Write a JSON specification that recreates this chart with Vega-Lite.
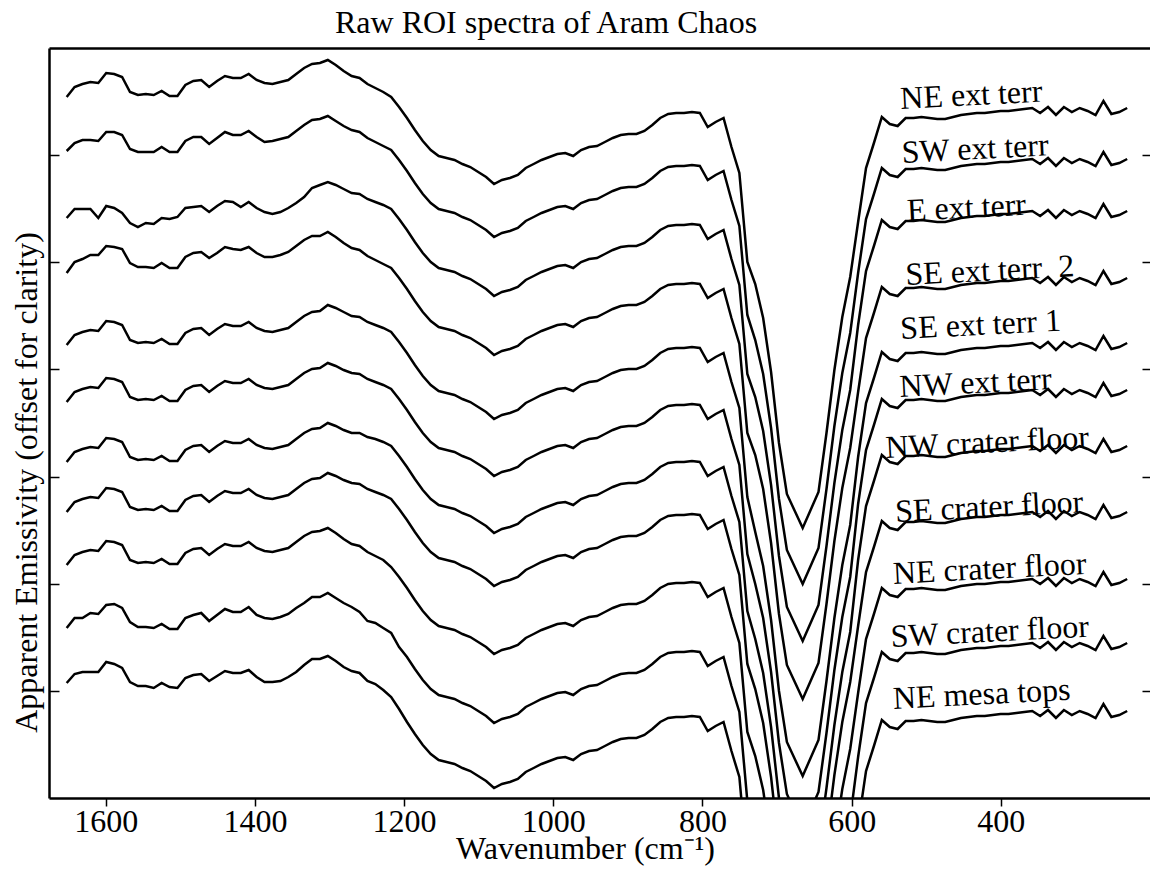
{
"$schema":"https://vega.github.io/schema/vega-lite/v6.json",
"width":1101,"height":750,
"autosize":{"type":"none"},
"padding":{"left":49,"top":48,"right":0,"bottom":71},
"background":"white",
"config":{"view":{"stroke":null},"font":"Liberation Serif"},
"title":{"text":"Raw ROI spectra of Aram Chaos","font":"Liberation Serif","fontSize":32,"fontWeight":"normal","color":"black","anchor":"start","frame":"group","dx":286,"dy":31,"offset":14,"baseline":"alphabetic"},
"datasets":{
"spectra":[
{"w":1652.3,"a":701,"b":647,"c":580,"d":525,"e":453,"f":396,"g":336,"h":286,"i":233,"j":170,"k":115},
{"w":1641.7,"a":711,"b":655,"c":589,"d":536,"e":463,"f":406,"g":346,"h":296,"i":243,"j":180,"k":124},
{"w":1631.1,"a":714,"b":658,"c":589,"d":539,"e":466,"f":409,"g":349,"h":299,"i":246,"j":180,"k":126},
{"w":1620.5,"a":716,"b":658,"c":589,"d":543,"e":468,"f":411,"g":351,"h":301,"i":248,"j":185,"k":126},
{"w":1609.9,"a":715,"b":657,"c":580,"d":543,"e":467,"f":410,"g":350,"h":300,"i":247,"j":184,"k":126},
{"w":1599.3,"a":725,"b":666,"c":592,"d":552,"e":477,"f":420,"g":360,"h":310,"i":257,"j":193,"k":136},
{"w":1588.6,"a":724,"b":666,"c":590,"d":551,"e":476,"f":419,"g":359,"h":309,"i":256,"j":194,"k":134},
{"w":1578.0,"a":721,"b":663,"c":585,"d":549,"e":473,"f":416,"g":356,"h":306,"i":253,"j":190,"k":130},
{"w":1567.4,"a":706,"b":649,"c":575,"d":535,"e":458,"f":401,"g":341,"h":291,"i":238,"j":176,"k":116},
{"w":1556.8,"a":703,"b":646,"c":571,"d":531,"e":455,"f":398,"g":338,"h":288,"i":235,"j":171,"k":112},
{"w":1546.2,"a":704,"b":646,"c":575,"d":531,"e":456,"f":399,"g":339,"h":289,"i":236,"j":171,"k":112},
{"w":1535.6,"a":703,"b":646,"c":574,"d":530,"e":455,"f":398,"g":338,"h":288,"i":235,"j":170,"k":110},
{"w":1525.0,"a":707,"b":651,"c":580,"d":535,"e":459,"f":402,"g":342,"h":292,"i":239,"j":174,"k":115},
{"w":1514.4,"a":702,"b":646,"c":579,"d":530,"e":454,"f":397,"g":337,"h":287,"i":234,"j":169,"k":111},
{"w":1503.8,"a":702,"b":646,"c":581,"d":530,"e":454,"f":397,"g":337,"h":287,"i":234,"j":169,"k":110},
{"w":1493.2,"a":713,"b":657,"c":590,"d":541,"e":465,"f":408,"g":348,"h":298,"i":245,"j":180,"k":120},
{"w":1482.5,"a":717,"b":661,"c":591,"d":545,"e":469,"f":412,"g":352,"h":302,"i":249,"j":183,"k":123},
{"w":1471.9,"a":718,"b":661,"c":592,"d":546,"e":470,"f":413,"g":353,"h":303,"i":250,"j":185,"k":124},
{"w":1461.3,"a":711,"b":654,"c":586,"d":540,"e":463,"f":406,"g":346,"h":296,"i":243,"j":177,"k":117},
{"w":1450.7,"a":717,"b":660,"c":592,"d":545,"e":469,"f":412,"g":352,"h":302,"i":249,"j":183,"k":122},
{"w":1440.1,"a":722,"b":666,"c":597,"d":551,"e":474,"f":417,"g":357,"h":307,"i":254,"j":189,"k":127},
{"w":1429.5,"a":720,"b":663,"c":596,"d":549,"e":472,"f":415,"g":355,"h":305,"i":252,"j":186,"k":125},
{"w":1418.9,"a":720,"b":663,"c":591,"d":548,"e":472,"f":415,"g":355,"h":305,"i":252,"j":186,"k":125},
{"w":1408.3,"a":724,"b":667,"c":596,"d":551,"e":476,"f":419,"g":359,"h":309,"i":256,"j":191,"k":128},
{"w":1397.7,"a":718,"b":661,"c":590,"d":545,"e":470,"f":413,"g":353,"h":303,"i":250,"j":183,"k":121},
{"w":1387.1,"a":715,"b":656,"c":586,"d":541,"e":467,"f":410,"g":350,"h":300,"i":247,"j":180,"k":116},
{"w":1376.4,"a":714,"b":657,"c":584,"d":541,"e":466,"f":409,"g":349,"h":299,"i":246,"j":179,"k":116},
{"w":1365.8,"a":716,"b":659,"c":586,"d":543,"e":468,"f":411,"g":351,"h":301,"i":248,"j":181,"k":117},
{"w":1355.2,"a":718,"b":661,"c":590,"d":546,"e":470,"f":413,"g":353,"h":303,"i":250,"j":184,"k":121},
{"w":1344.6,"a":724,"b":667,"c":595,"d":552,"e":476,"f":419,"g":359,"h":309,"i":256,"j":190,"k":126},
{"w":1334.0,"a":730,"b":673,"c":601,"d":558,"e":482,"f":425,"g":365,"h":315,"i":262,"j":195,"k":133},
{"w":1323.4,"a":734,"b":678,"c":610,"d":562,"e":486,"f":429,"g":369,"h":319,"i":266,"j":201,"k":139},
{"w":1312.8,"a":735,"b":679,"c":613,"d":562,"e":487,"f":430,"g":370,"h":320,"i":267,"j":201,"k":139},
{"w":1302.2,"a":738,"b":682,"c":616,"d":566,"e":493,"f":435,"g":375,"h":325,"i":270,"j":205,"k":142},
{"w":1291.6,"a":733,"b":677,"c":613,"d":561,"e":490,"f":432,"g":372,"h":322,"i":265,"j":200,"k":137},
{"w":1281.0,"a":727,"b":672,"c":609,"d":555,"e":486,"f":428,"g":368,"h":318,"i":259,"j":195,"k":131},
{"w":1270.3,"a":722,"b":668,"c":605,"d":550,"e":482,"f":425,"g":365,"h":315,"i":254,"j":191,"k":127},
{"w":1259.7,"a":720,"b":666,"c":604,"d":548,"e":481,"f":424,"g":365,"h":314,"i":252,"j":186,"k":125},
{"w":1249.1,"a":714,"b":660,"c":599,"d":542,"e":476,"f":419,"g":361,"h":309,"i":246,"j":177,"k":117},
{"w":1238.5,"a":710,"b":656,"c":596,"d":538,"e":473,"f":416,"g":359,"h":306,"i":242,"j":175,"k":114},
{"w":1227.9,"a":706,"b":652,"c":593,"d":534,"e":470,"f":413,"g":356,"h":303,"i":238,"j":170,"k":108},
{"w":1217.3,"a":701,"b":648,"c":589,"d":530,"e":466,"f":409,"g":352,"h":299,"i":231,"j":165,"k":101},
{"w":1206.7,"a":691,"b":638,"c":579,"d":520,"e":456,"f":399,"g":342,"h":289,"i":221,"j":151,"k":89},
{"w":1196.1,"a":680,"b":627,"c":568,"d":509,"e":445,"f":388,"g":331,"h":278,"i":210,"j":141,"k":76},
{"w":1185.5,"a":668,"b":615,"c":556,"d":497,"e":433,"f":376,"g":319,"h":266,"i":198,"j":129,"k":64},
{"w":1174.9,"a":657,"b":604,"c":545,"d":486,"e":422,"f":365,"g":308,"h":255,"i":187,"j":118,"k":53},
{"w":1164.2,"a":648,"b":595,"c":536,"d":477,"e":413,"f":356,"g":299,"h":246,"i":178,"j":109,"k":44},
{"w":1153.6,"a":642,"b":589,"c":530,"d":471,"e":407,"f":350,"g":293,"h":240,"i":172,"j":103,"k":38},
{"w":1143.0,"a":640,"b":587,"c":528,"d":469,"e":405,"f":348,"g":291,"h":238,"i":170,"j":101,"k":36},
{"w":1132.4,"a":638,"b":585,"c":526,"d":467,"e":403,"f":346,"g":289,"h":236,"i":168,"j":99,"k":34},
{"w":1121.8,"a":634,"b":581,"c":522,"d":463,"e":399,"f":342,"g":285,"h":232,"i":164,"j":95,"k":30},
{"w":1111.2,"a":631,"b":578,"c":519,"d":460,"e":396,"f":339,"g":282,"h":229,"i":161,"j":92,"k":27},
{"w":1100.6,"a":626,"b":573,"c":514,"d":455,"e":391,"f":334,"g":277,"h":224,"i":156,"j":87,"k":22},
{"w":1090.0,"a":621,"b":568,"c":509,"d":450,"e":386,"f":329,"g":272,"h":219,"i":151,"j":82,"k":17},
{"w":1079.4,"a":614,"b":561,"c":502,"d":443,"e":379,"f":322,"g":265,"h":212,"i":144,"j":75,"k":10},
{"w":1068.8,"a":618,"b":565,"c":506,"d":447,"e":383,"f":326,"g":269,"h":216,"i":148,"j":79,"k":14},
{"w":1058.1,"a":620,"b":567,"c":508,"d":449,"e":385,"f":328,"g":271,"h":218,"i":150,"j":81,"k":16},
{"w":1047.5,"a":623,"b":570,"c":511,"d":452,"e":388,"f":331,"g":274,"h":221,"i":153,"j":84,"k":19},
{"w":1036.9,"a":630,"b":577,"c":518,"d":459,"e":395,"f":338,"g":281,"h":228,"i":160,"j":91,"k":26},
{"w":1026.3,"a":634,"b":581,"c":522,"d":463,"e":399,"f":342,"g":285,"h":232,"i":164,"j":95,"k":30},
{"w":1015.7,"a":638,"b":585,"c":526,"d":467,"e":403,"f":346,"g":289,"h":236,"i":168,"j":99,"k":34},
{"w":1005.1,"a":641,"b":588,"c":529,"d":470,"e":406,"f":349,"g":292,"h":239,"i":171,"j":102,"k":37},
{"w":994.5,"a":644,"b":591,"c":532,"d":473,"e":409,"f":352,"g":295,"h":242,"i":174,"j":105,"k":40},
{"w":983.9,"a":645,"b":592,"c":533,"d":474,"e":410,"f":353,"g":296,"h":243,"i":175,"j":106,"k":41},
{"w":973.3,"a":642,"b":589,"c":530,"d":471,"e":407,"f":350,"g":293,"h":240,"i":172,"j":103,"k":38},
{"w":962.7,"a":648,"b":595,"c":536,"d":477,"e":413,"f":356,"g":299,"h":246,"i":178,"j":109,"k":44},
{"w":952.0,"a":651,"b":598,"c":539,"d":480,"e":416,"f":359,"g":302,"h":249,"i":181,"j":112,"k":47},
{"w":941.4,"a":652,"b":599,"c":540,"d":481,"e":417,"f":360,"g":303,"h":250,"i":182,"j":113,"k":48},
{"w":930.8,"a":656,"b":603,"c":544,"d":485,"e":421,"f":364,"g":307,"h":254,"i":186,"j":117,"k":52},
{"w":920.2,"a":660,"b":607,"c":548,"d":489,"e":425,"f":368,"g":311,"h":258,"i":190,"j":121,"k":56},
{"w":909.6,"a":663,"b":610,"c":551,"d":492,"e":428,"f":371,"g":314,"h":261,"i":193,"j":124,"k":59},
{"w":899.0,"a":664,"b":611,"c":552,"d":493,"e":429,"f":372,"g":315,"h":262,"i":194,"j":125,"k":60},
{"w":888.4,"a":664,"b":611,"c":552,"d":493,"e":429,"f":372,"g":315,"h":262,"i":194,"j":125,"k":60},
{"w":877.8,"a":667,"b":614,"c":555,"d":496,"e":432,"f":375,"g":318,"h":265,"i":197,"j":128,"k":63},
{"w":867.2,"a":673,"b":620,"c":561,"d":502,"e":438,"f":381,"g":324,"h":271,"i":203,"j":134,"k":69},
{"w":856.6,"a":680,"b":627,"c":568,"d":509,"e":445,"f":388,"g":331,"h":278,"i":210,"j":141,"k":76},
{"w":845.9,"a":684,"b":631,"c":572,"d":513,"e":449,"f":392,"g":335,"h":282,"i":214,"j":145,"k":80},
{"w":835.3,"a":685,"b":632,"c":573,"d":514,"e":450,"f":393,"g":336,"h":283,"i":215,"j":146,"k":81},
{"w":824.7,"a":685,"b":632,"c":573,"d":514,"e":450,"f":393,"g":336,"h":283,"i":215,"j":146,"k":81},
{"w":814.1,"a":686,"b":633,"c":574,"d":515,"e":451,"f":394,"g":337,"h":284,"i":216,"j":147,"k":82},
{"w":803.5,"a":685,"b":632,"c":573,"d":514,"e":450,"f":393,"g":336,"h":283,"i":215,"j":146,"k":81},
{"w":792.9,"a":671,"b":618,"c":559,"d":500,"e":436,"f":379,"g":322,"h":269,"i":201,"j":132,"k":67},
{"w":782.3,"a":676,"b":623,"c":564,"d":505,"e":441,"f":384,"g":327,"h":274,"i":206,"j":137,"k":72},
{"w":771.7,"a":680,"b":627,"c":568,"d":509,"e":445,"f":388,"g":331,"h":278,"i":210,"j":141,"k":76},
{"w":761.1,"a":651,"b":598,"c":539,"d":480,"e":416,"f":359,"g":302,"h":249,"i":181,"j":112,"k":47},
{"w":750.5,"a":625,"b":572,"c":513,"d":454,"e":390,"f":333,"g":276,"h":223,"i":155,"j":86,"k":21},
{"w":739.8,"a":536,"b":483,"c":424,"d":365,"e":301,"f":244,"g":187,"h":134,"i":66,"j":-3,"k":-68},
{"w":729.2,"a":514,"b":458,"c":401,"d":343,"e":266,"f":214,"g":159,"h":109,"i":42,"j":-27,"k":-92},
{"w":718.6,"a":480,"b":424,"c":367,"d":309,"e":232,"f":180,"g":125,"h":75,"i":8,"j":-61,"k":-126},
{"w":708.0,"a":426,"b":370,"c":313,"d":255,"e":178,"f":126,"g":71,"h":21,"i":-46,"j":-115,"k":-180},
{"w":697.4,"a":355,"b":299,"c":242,"d":184,"e":107,"f":55,"g":0,"h":-50,"i":-117,"j":-186,"k":-251},
{"w":686.8,"a":304,"b":248,"c":191,"d":133,"e":56,"f":4,"g":-51,"h":-101,"i":-168,"j":-237,"k":-302},
{"w":676.2,"a":287,"b":231,"c":174,"d":116,"e":39,"f":-13,"g":-68,"h":-118,"i":-185,"j":-254,"k":-319},
{"w":665.6,"a":270,"b":214,"c":157,"d":99,"e":22,"f":-30,"g":-85,"h":-135,"i":-202,"j":-271,"k":-336},
{"w":655.0,"a":288,"b":232,"c":175,"d":117,"e":40,"f":-12,"g":-67,"h":-117,"i":-184,"j":-253,"k":-318},
{"w":644.4,"a":306,"b":250,"c":193,"d":135,"e":58,"f":6,"g":-49,"h":-99,"i":-166,"j":-235,"k":-300},
{"w":633.7,"a":365,"b":309,"c":252,"d":194,"e":117,"f":65,"g":10,"h":-40,"i":-107,"j":-176,"k":-241},
{"w":623.1,"a":428,"b":372,"c":315,"d":257,"e":180,"f":128,"g":73,"h":23,"i":-44,"j":-113,"k":-178},
{"w":612.5,"a":481,"b":425,"c":368,"d":310,"e":233,"f":181,"g":126,"h":76,"i":9,"j":-60,"k":-125},
{"w":601.9,"a":521,"b":465,"c":408,"d":350,"e":273,"f":221,"g":166,"h":116,"i":49,"j":-20,"k":-85},
{"w":591.3,"a":576,"b":525,"c":473,"d":406,"e":341,"f":294,"g":238,"h":172,"i":105,"j":41,"k":-27},
{"w":580.7,"a":630,"b":579,"c":527,"d":460,"e":395,"f":348,"g":292,"h":226,"i":159,"j":95,"k":27},
{"w":570.1,"a":655,"b":604,"c":552,"d":485,"e":420,"f":373,"g":317,"h":251,"i":184,"j":120,"k":52},
{"w":559.5,"a":681,"b":630,"c":578,"d":511,"e":446,"f":399,"g":343,"h":277,"i":210,"j":146,"k":78},
{"w":548.9,"a":674,"b":623,"c":571,"d":504,"e":439,"f":392,"g":336,"h":270,"i":203,"j":139,"k":71},
{"w":538.3,"a":672,"b":621,"c":569,"d":502,"e":437,"f":390,"g":334,"h":268,"i":201,"j":137,"k":69},
{"w":527.6,"a":680,"b":629,"c":577,"d":510,"e":445,"f":398,"g":342,"h":276,"i":209,"j":145,"k":77},
{"w":517.0,"a":680,"b":629,"c":577,"d":510,"e":445,"f":398,"g":342,"h":276,"i":209,"j":145,"k":77},
{"w":506.4,"a":681,"b":630,"c":578,"d":511,"e":446,"f":399,"g":343,"h":277,"i":210,"j":146,"k":78},
{"w":495.8,"a":680,"b":629,"c":577,"d":510,"e":445,"f":398,"g":342,"h":276,"i":209,"j":145,"k":77},
{"w":485.2,"a":679,"b":628,"c":576,"d":509,"e":444,"f":397,"g":341,"h":275,"i":208,"j":144,"k":76},
{"w":474.6,"a":679,"b":628,"c":576,"d":509,"e":444,"f":397,"g":341,"h":275,"i":208,"j":144,"k":76},
{"w":464.0,"a":681,"b":630,"c":578,"d":511,"e":446,"f":399,"g":343,"h":277,"i":210,"j":146,"k":78},
{"w":453.4,"a":683,"b":632,"c":580,"d":513,"e":448,"f":401,"g":345,"h":279,"i":212,"j":148,"k":80},
{"w":442.8,"a":684,"b":633,"c":581,"d":514,"e":449,"f":402,"g":346,"h":280,"i":213,"j":149,"k":81},
{"w":432.2,"a":685,"b":634,"c":582,"d":515,"e":450,"f":403,"g":347,"h":281,"i":214,"j":150,"k":82},
{"w":421.5,"a":685,"b":634,"c":582,"d":515,"e":450,"f":403,"g":347,"h":281,"i":214,"j":150,"k":82},
{"w":410.9,"a":686,"b":635,"c":583,"d":516,"e":451,"f":404,"g":348,"h":282,"i":215,"j":151,"k":83},
{"w":400.3,"a":687,"b":636,"c":584,"d":517,"e":452,"f":405,"g":349,"h":283,"i":216,"j":152,"k":84},
{"w":389.7,"a":687,"b":636,"c":584,"d":517,"e":452,"f":405,"g":349,"h":283,"i":216,"j":152,"k":84},
{"w":379.1,"a":688,"b":637,"c":585,"d":518,"e":453,"f":406,"g":350,"h":284,"i":217,"j":153,"k":85},
{"w":368.5,"a":689,"b":638,"c":586,"d":519,"e":454,"f":407,"g":351,"h":285,"i":218,"j":154,"k":86},
{"w":357.9,"a":690,"b":639,"c":587,"d":520,"e":455,"f":408,"g":352,"h":286,"i":219,"j":155,"k":87},
{"w":347.3,"a":685,"b":634,"c":582,"d":515,"e":450,"f":403,"g":347,"h":281,"i":214,"j":150,"k":82},
{"w":336.7,"a":691,"b":640,"c":588,"d":521,"e":456,"f":409,"g":353,"h":287,"i":220,"j":156,"k":88},
{"w":326.1,"a":683,"b":632,"c":580,"d":513,"e":448,"f":401,"g":345,"h":279,"i":212,"j":148,"k":80},
{"w":315.4,"a":691,"b":640,"c":588,"d":521,"e":456,"f":409,"g":353,"h":287,"i":220,"j":156,"k":88},
{"w":304.8,"a":686,"b":635,"c":583,"d":516,"e":451,"f":404,"g":348,"h":282,"i":215,"j":151,"k":83},
{"w":294.2,"a":690,"b":639,"c":587,"d":520,"e":455,"f":408,"g":352,"h":286,"i":219,"j":155,"k":87},
{"w":283.6,"a":687,"b":636,"c":584,"d":517,"e":452,"f":405,"g":349,"h":283,"i":216,"j":152,"k":84},
{"w":273.0,"a":683,"b":632,"c":580,"d":513,"e":448,"f":401,"g":345,"h":279,"i":212,"j":148,"k":80},
{"w":262.4,"a":697,"b":646,"c":594,"d":527,"e":462,"f":415,"g":359,"h":293,"i":226,"j":162,"k":94},
{"w":251.8,"a":684,"b":633,"c":581,"d":514,"e":449,"f":402,"g":346,"h":280,"i":213,"j":149,"k":81},
{"w":241.2,"a":686,"b":635,"c":583,"d":516,"e":451,"f":404,"g":348,"h":282,"i":215,"j":151,"k":83},
{"w":230.6,"a":690,"b":639,"c":587,"d":520,"e":455,"f":408,"g":352,"h":286,"i":219,"j":155,"k":87}
],
"labels":[
{"label":"NE ext terr","w":534,"e":689},
{"label":"SW ext terr","w":532,"e":635},
{"label":"E ext terr","w":525,"e":577},
{"label":"SE ext terr\u00a0 2","w":527,"e":513},
{"label":"SE ext terr 1","w":534,"e":459},
{"label":"NW ext terr","w":535,"e":401},
{"label":"NW crater floor","w":554,"e":340},
{"label":"SE crater floor","w":541,"e":276},
{"label":"NE crater floor","w":544,"e":214},
{"label":"SW crater floor","w":547,"e":151},
{"label":"NE mesa tops","w":544,"e":89}
]
},
"layer":[
{
"data":{"name":"spectra"},
"transform":[{"fold":["a","b","c","d","e","f","g","h","i","j","k"],"as":["s","v"]}],
"mark":{"type":"line","color":"black","strokeWidth":2.5,"clip":true},
"encoding":{
"x":{"field":"w","type":"quantitative","scale":{"domain":[200,1676],"reverse":true,"nice":false,"zero":false},
"axis":{"orient":"bottom","values":[1600,1400,1200,1000,800,600,400],"format":"d","grid":false,"domainColor":"black","domainWidth":2.5,"tickColor":"black","tickWidth":1.5,"tickSize":8,"labelFont":"Liberation Serif","labelFontSize":32,"labelColor":"black","labelPadding":0,"labelFlush":false,"labelOverlap":false,
"title":"Wavenumber (cm⁻¹)","titleFont":"Liberation Serif","titleFontSize":32,"titleFontWeight":"normal","titleColor":"black","titleX":536,"titleY":60,"titleBaseline":"alphabetic","titleAlign":"center"}},
"y":{"field":"v","type":"quantitative","scale":{"domain":[0,750],"nice":false,"zero":false},
"axis":{"orient":"left","values":[107.14,214.29,321.43,428.57,535.71,642.86],"labels":false,"grid":false,"domainColor":"black","domainWidth":2.5,"tickColor":"black","tickWidth":1.5,"tickSize":-10,
"title":"Apparent Emissivity (offset for clarity)","titleFont":"Liberation Serif","titleFontSize":32,"titleFontWeight":"normal","titleColor":"black","titleX":-13,"titleY":434,"titleAngle":270,"titleBaseline":"alphabetic","titleAlign":"center"}},
"detail":{"field":"s","type":"nominal"}
}
},
{
"data":{"name":"spectra"},
"mark":{"type":"line","opacity":0},
"encoding":{
"x":{"field":"w","type":"quantitative","scale":{"domain":[200,1676],"reverse":true,"nice":false,"zero":false},
"axis":{"orient":"top","ticks":false,"labels":false,"grid":false,"title":null,"domainColor":"black","domainWidth":2.5}},
"y":{"field":"a","type":"quantitative","scale":{"domain":[0,750],"nice":false,"zero":false},
"axis":{"orient":"right","values":[107.14,214.29,321.43,428.57,535.71,642.86],"labels":false,"grid":false,"domain":false,"title":null,"tickColor":"black","tickWidth":1.5,"tickSize":-8}}
}
},
{
"data":{"name":"labels"},
"mark":{"type":"text","font":"Liberation Serif","fontSize":32,"angle":357,"align":"left","baseline":"alphabetic","color":"black"},
"encoding":{
"x":{"field":"w","type":"quantitative","scale":{"domain":[200,1676],"reverse":true,"nice":false,"zero":false},"axis":null},
"y":{"field":"e","type":"quantitative","scale":{"domain":[0,750],"nice":false,"zero":false},"axis":null},
"text":{"field":"label","type":"nominal"}
}
}
],
"resolve":{"axis":{"x":"independent","y":"independent"}}
}
